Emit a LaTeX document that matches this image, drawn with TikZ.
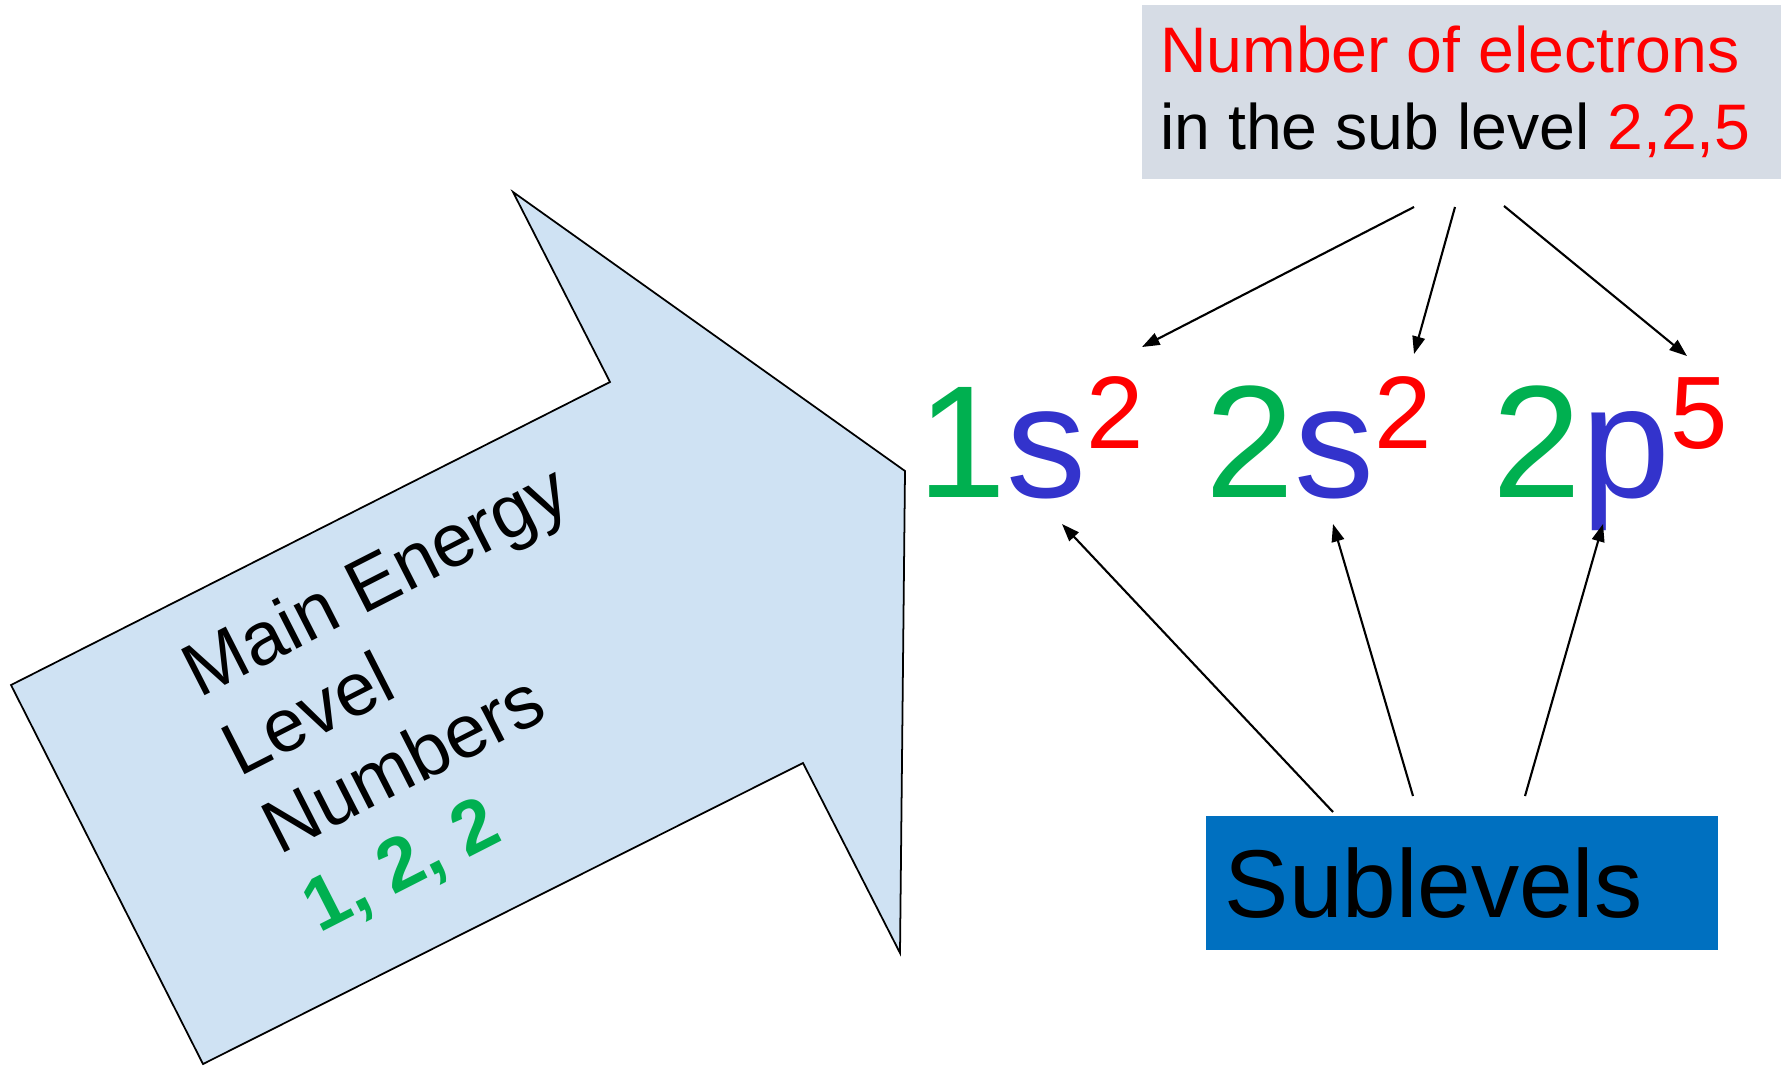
\documentclass[tikz,border=0pt]{standalone}
\usepackage{fontspec}
\setmainfont{Liberation Sans}
\usepackage{xcolor}
\usetikzlibrary{arrows.meta}
\definecolor{arrowblue}{HTML}{CFE2F3}
\definecolor{labelgray}{HTML}{D6DCE5}
\definecolor{levelgreen}{HTML}{00B050}
\definecolor{orbitblue}{HTML}{3333CC}
\definecolor{subblue}{HTML}{0070C0}
\newcommand{\esup}[1]{\raisebox{13.7pt}{\fontsize{29.3pt}{32pt}\selectfont\color{red}#1}}

\begin{document}
\begin{tikzpicture}[x=0.01cm, y=-0.01cm,
  bigarrow/.style={fill=arrowblue, draw=black, line width=0.5pt, line join=miter},
  arrowtext/.style={align=left, inner sep=0pt, font=\fontsize{21.3pt}{25pt}\selectfont},
  term/.style={inner sep=0pt, anchor=base west, font=\fontsize{45.5pt}{50pt}\selectfont},
  labelbox/.style={fill=labelgray, inner sep=0pt, align=left, font=\fontsize{18.3pt}{21.9pt}\selectfont},
  subbox/.style={fill=subblue, inner xsep=0.19cm, inner ysep=0pt, align=left, font=\fontsize{27.4pt}{32pt}\selectfont},
  arr/.style={-{Triangle[length=5pt, width=3.6pt]}, line width=0.6pt}]
  \useasboundingbox (0,0) rectangle (1788,1066);

  % big block arrow
  \draw[bigarrow] (513,192) -- (610,382) -- (11,685) -- (203,1064) -- (803,763) -- (900,953) -- (905,471) -- cycle;
  \node[arrowtext, rotate=27, anchor=north west] (main) at (174,650)
    {Main Energy\\Level\\Numbers\\\textcolor{levelgreen}{\bfseries 1, 2, 2}};

  % configuration
  \node[term] (t1) at (917,497) {\textcolor{levelgreen}{1}\textcolor{orbitblue}{s}\esup{2}};
  \node[term] (t2) at (1205,497) {\textcolor{levelgreen}{2}\textcolor{orbitblue}{s}\esup{2}};
  \node[term] (t3) at (1492,497) {\textcolor{levelgreen}{2}\textcolor{orbitblue}{p}\esup{5}};

  % labels
  \node[labelbox, anchor=north west, minimum width=6.39cm, minimum height=1.74cm] (elec) at (1141,4)
    {\textcolor{red}{Number of electrons}\\in the sub level \textcolor{red}{2,2,5}\hspace*{0.12cm}};
  \node[subbox, anchor=north west, minimum width=5.12cm, minimum height=1.34cm, text width=4.74cm] (sub) at (1205,815) {Sublevels};

  % arrow ends
  \coordinate (e1) at (1414,207);
  \coordinate (e2) at (1455,207);
  \coordinate (e3) at (1504,206);
  \coordinate (x1) at (1142,347);
  \coordinate (x2) at (1414,354);
  \coordinate (x3) at (1687,356);
  \coordinate (s1) at (1333,812);
  \coordinate (s2) at (1413,796);
  \coordinate (s3) at (1525,796);
  \coordinate (y1) at (1062,524);
  \coordinate (y2) at (1333,524);
  \coordinate (y3) at (1603,524);

  \draw[arr] (e1) -- (x1);
  \draw[arr] (e2) -- (x2);
  \draw[arr] (e3) -- (x3);
  \draw[arr] (s1) -- (y1);
  \draw[arr] (s2) -- (y2);
  \draw[arr] (s3) -- (y3);
\end{tikzpicture}
\end{document}
